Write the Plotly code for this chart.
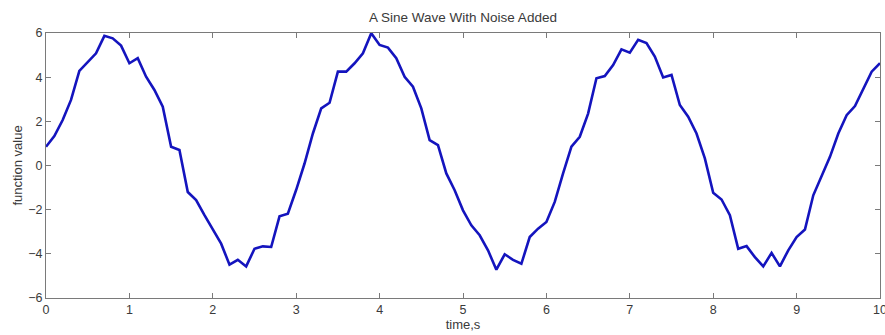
import plotly.graph_objects as go

t_values = [round(i * 0.1, 1) for i in range(101)]
y_values = [
    0.85, 1.33, 2.06, 2.97, 4.28, 4.70, 5.08, 5.87, 5.76, 5.43,
    4.63, 4.86, 4.02, 3.42, 2.66, 0.85, 0.70, -1.20, -1.57, -2.25,
    -2.93, -3.54, -4.49, -4.27, -4.57, -3.77, -3.66, -3.69, -2.30, -2.18,
    -1.10, 0.09, 1.45, 2.59, 2.84, 4.25, 4.25, 4.63, 5.08, 5.99,
    5.46, 5.34, 4.86, 4.02, 3.57, 2.59, 1.15, 0.92, -0.36, -1.12,
    -2.03, -2.71, -3.16, -3.84, -4.72, -4.02, -4.27, -4.45, -3.24, -2.86,
    -2.56, -1.65, -0.36, 0.85, 1.30, 2.35, 3.95, 4.05, 4.55, 5.26,
    5.11, 5.69, 5.54, 4.93, 3.99, 4.10, 2.74, 2.21, 1.45, 0.32,
    -1.24, -1.54, -2.25, -3.77, -3.65, -4.15, -4.57, -3.96, -4.57, -3.84,
    -3.24, -2.90, -1.35, -0.51, 0.39, 1.45, 2.28, 2.69, 3.49, 4.25,
    4.63,
]
x_ticks = [0, 1, 2, 3, 4, 5, 6, 7, 8, 9, 10]
y_ticks = [-6, -4, -2, 0, 2, 4, 6]

FONT = "Liberation Sans, Arial"
TXT = "#3a3a3a"

fig = go.Figure()
fig.add_trace(go.Scatter(
    x=t_values, y=y_values, mode="lines",
    line=dict(color="rgb(20,20,190)", width=2.6),
    showlegend=False, hoverinfo="skip", cliponaxis=False,
))

axis_common = dict(
    showgrid=False, zeroline=False, showline=True, linecolor="#7a7a7a",
    linewidth=1, mirror="ticks", ticks="inside", ticklen=5,
    tickcolor="#7a7a7a", tickfont=dict(family=FONT, size=12.5, color=TXT),
    automargin=False, ticklabeloverflow="allow",
)
fig.update_xaxes(range=[0, 10], tickvals=x_ticks, **axis_common,
                 title=dict(text="time,s", font=dict(family=FONT, size=13, color=TXT), standoff=3))
fig.update_yaxes(range=[-6, 6], tickvals=y_ticks, ticklabelstandoff=0, **axis_common,
                 title=dict(text="function value", font=dict(family=FONT, size=13, color=TXT), standoff=2))

fig.update_layout(
    width=885, height=335,
    margin=dict(l=46, r=5, t=33, b=37),
    paper_bgcolor="white", plot_bgcolor="white",
    title=dict(text="A Sine Wave With Noise Added", x=0.5, xref="paper", xanchor="center",
               y=1 - 17 / 335, yref="container", yanchor="middle",
               font=dict(family=FONT, size=13.5, color=TXT)),
)

fig.write_html("out.html", config={"displayModeBar": False},
               post_script="document.body.style.margin='0';document.body.style.overflow='hidden';")
